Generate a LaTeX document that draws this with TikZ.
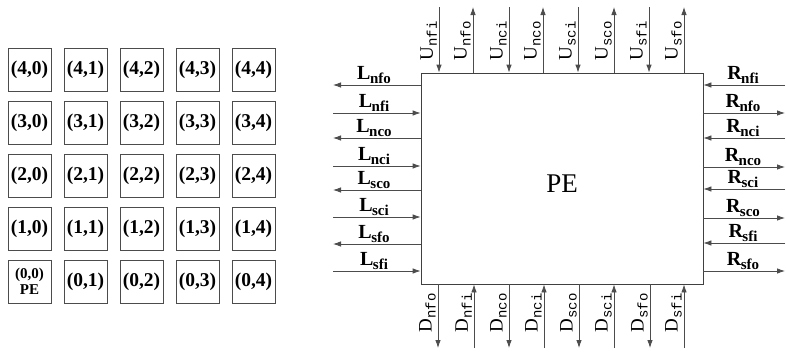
\documentclass[tikz,border=0pt]{standalone}
\usepackage{fontspec}
\setmainfont{Liberation Serif}
\setmonofont{Liberation Mono}
\usetikzlibrary{arrows.meta}
\newcommand\blab[2]{{\fontsize{20}{20}\selectfont\bfseries #1\kern-0.5pt\raisebox{-3.5pt}{\fontsize{15}{15}\selectfont #2}}}
\newcommand\vlab[2]{{\fontsize{19}{19}\selectfont #1\raisebox{-4pt}{\fontsize{14}{14}\selectfont\ttfamily #2}}}
\tikzset{
  cell/.style={draw=black!70, line width=0.8pt, minimum width=43pt, minimum height=43pt, inner sep=0pt, font=\fontsize{19.5}{19.5}\selectfont\bfseries},
  pebox/.style={draw=black!75, line width=0.8pt, minimum width=282pt, minimum height=211pt, inner sep=0pt},
  sig/.style={draw=black!70, line width=0.8pt, -{Latex[length=8pt,width=5.5pt]}},
  hlab/.style={anchor=south, inner sep=0.5pt},
  vlabel/.style={rotate=90, anchor=south, inner sep=1pt}
}
\begin{document}
\begin{tikzpicture}[x=1pt,y=-1pt]
\useasboundingbox (0,0) rectangle (786,351);
% grid of PEs
\foreach \r in {0,...,4}{
  \foreach \c in {0,...,4}{
    \ifnum\r=0 \ifnum\c=0
      \node[cell, align=center, font=\fontsize{15}{16}\selectfont\bfseries] (g\r\c) at ({29.5+56*\c},{69.5+53*(4-\r)}) {(\r,\c)\\PE};
    \else
      \node[cell] (g\r\c) at ({29.5+56*\c},{69.5+53*(4-\r)}) {(\r,\c)};
    \fi\else
      \node[cell] (g\r\c) at ({29.5+56*\c},{69.5+53*(4-\r)}) {(\r,\c)};
    \fi
  }
}
% main PE
\node[pebox] (pe) at (562,178.5) {};
\node[font=\fontsize{27}{27}\selectfont] (pelabel) at (562,184) {PE};
% left side
\foreach \y/\s/\d in {85/nfo/o,113/nfi/i,138/nco/o,166/nci/i,190/sco/o,217/sci/i,244/sfo/o,271/sfi/i}{
  \coordinate (L\s) at (333,\y);
  \if o\d
    \draw[sig] (pe.west |- L\s) -- (L\s);
  \else
    \draw[sig] (L\s) -- (pe.west |- L\s);
  \fi
  \node[hlab] (Lt\s) at (374,\y-1) {\blab{L}{\s}};
}
% right side
\foreach \y/\s/\d in {85/nfi/i,113/nfo/o,138/nci/i,167/nco/o,189/sci/i,218/sco/o,243/sfi/i,271/sfo/o}{
  \coordinate (R\s) at (785,\y);
  \if o\d
    \draw[sig] (pe.east |- R\s) -- (R\s);
  \else
    \draw[sig] (R\s) -- (pe.east |- R\s);
  \fi
  \node[hlab] (Rt\s) at (743,\y-1) {\blab{R}{\s}};
}
% top side
\foreach \x/\s/\d in {439/nfi/i,473/nfo/o,509/nci/i,543/nco/o,578/sci/i,614/sco/o,649/sfi/i,684/sfo/o}{
  \coordinate (U\s) at (\x,7);
  \if o\d
    \draw[sig] (pe.north -| U\s) -- (U\s);
  \else
    \draw[sig] (U\s) -- (pe.north -| U\s);
  \fi
  \node[vlabel] (Ut\s) at (\x-1,41) {\vlab{U}{\s}};
}
% bottom side
\foreach \x/\s/\d in {438/nfo/o,474/nfi/i,509/nco/o,544/nci/i,579/sco/o,614/sci/i,650/sfo/o,684/sfi/i}{
  \coordinate (D\s) at (\x,348);
  \if o\d
    \draw[sig] (pe.south -| D\s) -- (D\s);
  \else
    \draw[sig] (D\s) -- (pe.south -| D\s);
  \fi
  \node[vlabel] (Dt\s) at (\x-1,313) {\vlab{D}{\s}};
}
\end{tikzpicture}
\end{document}
